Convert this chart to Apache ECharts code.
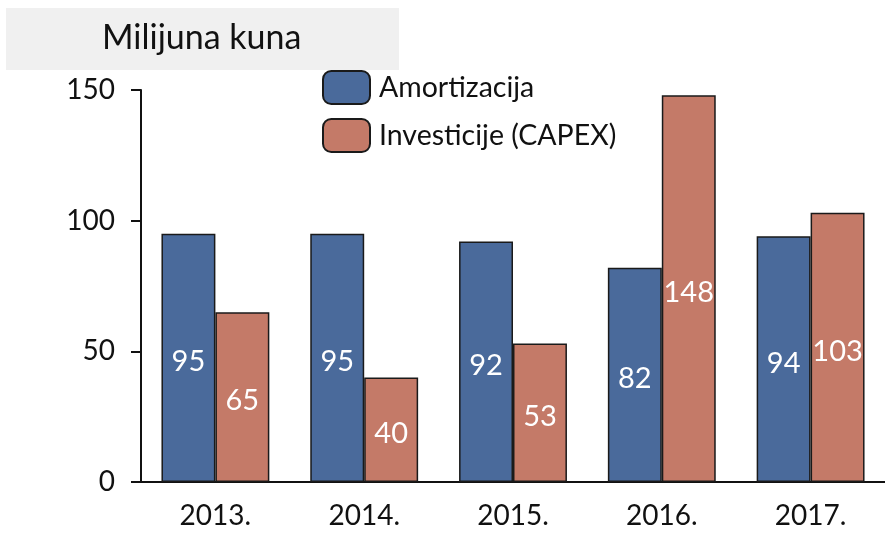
<!DOCTYPE html>
<html lang="hr">
  <head>
    <meta charset="UTF-8" />
    <title>Amortizacija i investicije</title>
    <script src="https://cdn.jsdelivr.net/npm/echarts@6/dist/echarts.min.js"></script>
    <style>
      html, body { margin: 0; padding: 0; background: #fff; }
      #main { width: 885px; height: 536px; }
    </style>
  </head>
  <body>
    <div id="main"></div>
    <script>
      // podaci s grafa
      var years = ['2013.', '2014.', '2015.', '2016.', '2017.'];
      var amortizacija = [95, 95, 92, 82, 94];
      var investicije = [65, 40, 53, 148, 103];

      var FONT = 'Lato';
      var myChart = echarts.init(document.getElementById('main'));

      var labelStyle = {
        show: true,
        position: 'inside',
        offset: [0, 4],
        color: '#fff',
        fontFamily: FONT,
        fontSize: 29
      };

      var option = {
        animation: false,
        textStyle: { fontFamily: FONT },
        graphic: [
          {
            type: 'rect',
            shape: { x: 6, y: 8, width: 393, height: 62 },
            style: { fill: '#f0f0f0' },
            z: -1
          }
        ],
        title: {
          text: 'Milijuna kuna',
          left: 102,
          top: 21,
          padding: 0,
          textStyle: { fontFamily: FONT, fontSize: 34, fontWeight: 'normal', color: '#111' }
        },
        legend: {
          orient: 'vertical',
          left: 322,
          top: 70,
          padding: 0,
          itemWidth: 47,
          itemHeight: 33,
          itemGap: 13,
          textStyle: { fontFamily: FONT, fontSize: 28.5, color: '#111', padding: [0, 0, 0, 4] },
          data: ['Amortizacija', 'Investicije (CAPEX)']
        },
        grid: { left: 141, right: 0, top: 90, bottom: 54, containLabel: false },
        xAxis: {
          type: 'category',
          data: years,
          axisLine: { show: true, lineStyle: { color: '#111', width: 2 } },
          axisTick: { show: false },
          axisLabel: { color: '#111', fontSize: 28, margin: 20 }
        },
        yAxis: {
          type: 'value',
          min: 0,
          max: 150,
          interval: 50,
          splitLine: { show: false },
          axisLine: { show: true, lineStyle: { color: '#111', width: 2 } },
          axisTick: { show: true, length: 10, lineStyle: { color: '#111', width: 2 } },
          axisLabel: { color: '#111', fontSize: 28, margin: 26 }
        },
        series: [
          {
            name: 'Amortizacija',
            type: 'bar',
            data: amortizacija,
            barGap: '0%',
            barCategoryGap: '27.5%',
            itemStyle: { color: '#4a6a9b', borderColor: '#1a1a1a', borderWidth: 1.5 },
            label: labelStyle
          },
          {
            name: 'Investicije (CAPEX)',
            type: 'bar',
            data: investicije,
            barGap: '0%',
            barCategoryGap: '27.5%',
            itemStyle: { color: '#c47a68', borderColor: '#1a1a1a', borderWidth: 1.5 },
            label: labelStyle
          }
        ]
      };

      myChart.setOption(option);
    </script>
  </body>
</html>
